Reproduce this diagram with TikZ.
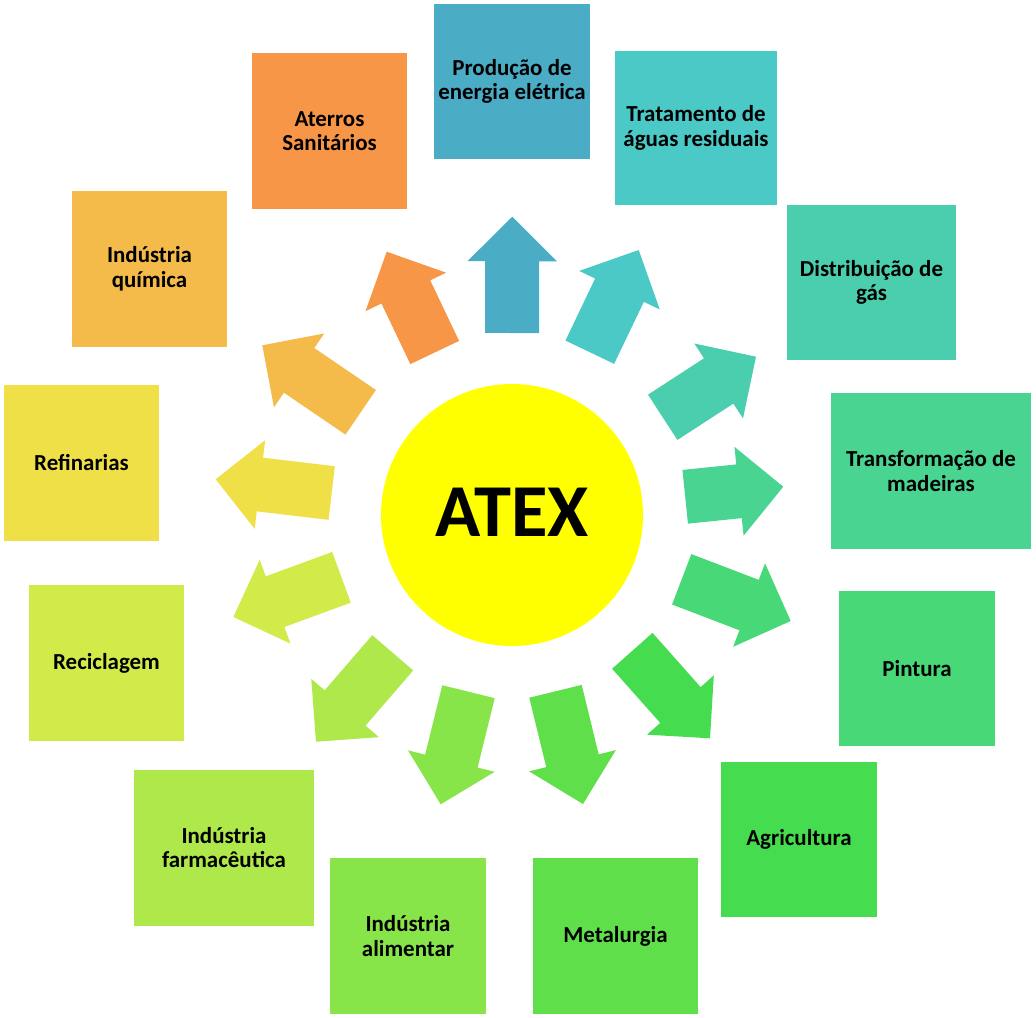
\documentclass[tikz,border=0pt]{standalone}
\usepackage{fontspec}
\setmainfont{Carlito}
\usetikzlibrary{calc}
\definecolor{c1}{HTML}{4BACC6}
\definecolor{c2}{HTML}{4BC9C7}
\definecolor{c3}{HTML}{4ACEAE}
\definecolor{c4}{HTML}{49D492}
\definecolor{c5}{HTML}{48D878}
\definecolor{c6}{HTML}{46DC50}
\definecolor{c7}{HTML}{5FE04A}
\definecolor{c8}{HTML}{87E54A}
\definecolor{c9}{HTML}{AEE84A}
\definecolor{c10}{HTML}{D3EB48}
\definecolor{c11}{HTML}{EFE048}
\definecolor{c12}{HTML}{F4BA4A}
\definecolor{c13}{HTML}{F79646}
\definecolor{sun}{RGB}{255,255,0}
\newcommand\radarrow[2]{%
  \coordinate (#1h) at ($(#1t)!33.4pt!(#1b)$);
  \fill[#2] ($(#1b)!20.25pt!90:(#1t)$) -- ($(#1h)!20.25pt!90:(#1t)$) -- ($(#1h)!33.5pt!90:(#1t)$) -- (#1t)
    -- ($(#1h)!33.5pt!-90:(#1t)$) -- ($(#1h)!20.25pt!-90:(#1t)$) -- ($(#1b)!20.25pt!-90:(#1t)$) -- cycle;
}
\tikzset{
  box/.style={rectangle, inner sep=0pt, align=center, font=\fontsize{17.2}{18.3}\selectfont\bfseries, text=black},
}
\begin{document}
\begin{tikzpicture}[x=0.75pt,y=-0.75pt]
\useasboundingbox (0,0) rectangle (1036,1018);
% boxes
\node[box, fill=c1, minimum width=117pt, minimum height=116pt] (b1) at (512,81.3) {Produção de\\energia elétrica};
\node[box, fill=c2, minimum width=121.5pt, minimum height=115.5pt] (b2) at (696,128) {Tratamento de\\águas residuais};
\node[box, fill=c3, minimum width=126.75pt, minimum height=116.25pt] (b3) at (871.5,282.5) {Distribuição de\\gás};
\node[box, fill=c4, minimum width=150pt, minimum height=116.5pt] (b4) at (931,471) {Transformação de\\madeiras};
\node[box, fill=c5, minimum width=117pt, minimum height=116.25pt] (b5) at (917,668.5) {Pintura};
\node[box, fill=c6, minimum width=117pt, minimum height=116.25pt] (b6) at (799,839.5) {Agricultura};
\node[box, fill=c7, minimum width=123.75pt, minimum height=117pt] (b7) at (615.5,936) {Metalurgia};
\node[box, fill=c8, minimum width=117pt, minimum height=117pt] (b8) at (408,936) {Indústria\\alimentar};
\node[box, fill=c9, minimum width=135pt, minimum height=116.8pt] (b9) at (224,847.8) {Indústria\\farmacêutica};
\node[box, fill=c10, minimum width=116.25pt, minimum height=117pt] (b10) at (106.5,663) {Reciclagem};
\node[box, fill=c11, minimum width=116.25pt, minimum height=117pt] (b11) at (81.5,463) {Refinarias};
\node[box, fill=c12, minimum width=116.25pt, minimum height=116.8pt] (b12) at (149.5,268.8) {Indústria\\química};
\node[box, fill=c13, minimum width=116.25pt, minimum height=117pt] (b13) at (329.5,131) {Aterros\\Sanitários};
% arrows: base and tip coordinates
\coordinate (a1b) at (512,333);     \coordinate (a1t) at (512.3,216.7);
\coordinate (a2b) at (589.8,352.2); \coordinate (a2t) at (638.7,250);
\coordinate (a3b) at (662.7,417.3); \coordinate (a3t) at (756,356.7);
\coordinate (a4b) at (685.2,496.8); \coordinate (a4t) at (783.3,486.7);
\coordinate (a5b) at (681.7,579.3); \coordinate (a5t) at (790.7,621);
\coordinate (a6b) at (632.3,650.8); \coordinate (a6t) at (710,738.3);
\coordinate (a7b) at (555.5,691.3); \coordinate (a7t) at (583,804);
\coordinate (a8b) at (468.5,691.7); \coordinate (a8t) at (440.7,804.3);
\coordinate (a9b) at (392.7,652.8); \coordinate (a9t) at (316,741.7);
\coordinate (a10b) at (341.5,577.3); \coordinate (a10t) at (233.3,617);
\coordinate (a11b) at (331.7,493);  \coordinate (a11t) at (215.7,479.3);
\coordinate (a12b) at (360.7,412.3); \coordinate (a12t) at (262.3,345.3);
\coordinate (a13b) at (434.7,352.5); \coordinate (a13t) at (386.7,251.7);
\radarrow{a1}{c1}
\radarrow{a2}{c2}
\radarrow{a3}{c3}
\radarrow{a4}{c4}
\radarrow{a5}{c5}
\radarrow{a6}{c6}
\radarrow{a7}{c7}
\radarrow{a8}{c8}
\radarrow{a9}{c9}
\radarrow{a10}{c10}
\radarrow{a11}{c11}
\radarrow{a12}{c12}
\radarrow{a13}{c13}
% center
\node[circle, fill=sun, inner sep=0pt, minimum size=196.5pt] (c) at (512,515) {};
\node[font=\fontsize{56}{60}\selectfont\bfseries, inner sep=0pt] (atex) at (512,512) {ATEX};
\end{tikzpicture}
\end{document}
